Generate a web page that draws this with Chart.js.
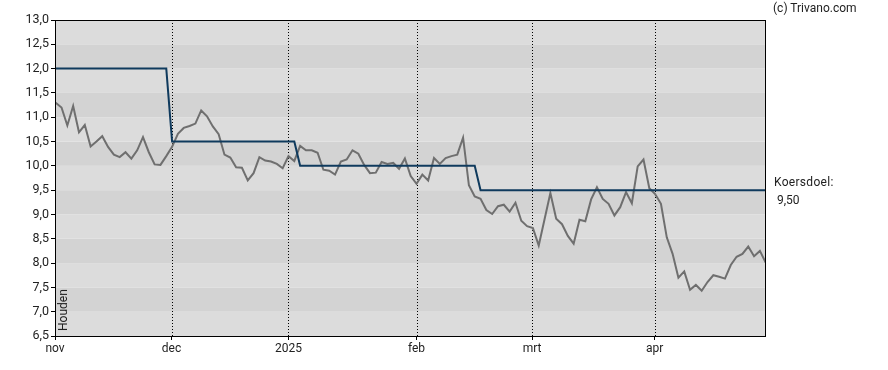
<!DOCTYPE html>
<html>
<head>
<meta charset="utf-8">
<script src="https://cdn.jsdelivr.net/npm/chart.js@4/dist/chart.umd.min.js"></script>
<style>
  html, body { margin: 0; padding: 0; background: #fff; }
  #wrap { position: relative; width: 888px; height: 370px; font-family: Roboto, Arial, sans-serif; color: #222; }
  #chart { position: absolute; left: 0; top: 0; }
  .note { position: absolute; font-size: 12px; line-height: 14px; white-space: nowrap; }
  #houden { position: absolute; left: 57px; top: 331px; font-size: 12px; line-height: 12px; transform-origin: 0 0; transform: rotate(-90deg); white-space: nowrap; }
</style>
</head>
<body>
<div id="wrap">
  <canvas id="chart" width="888" height="370"></canvas>
  <div class="note" style="left:773px; top:1px;">(c) Trivano.com</div>
  <div class="note" style="left:774px; top:175px; letter-spacing:0.3px;">Koersdoel:</div>
  <div class="note" style="left:777px; top:193px;">9,50</div>
  <div id="houden">Houden</div>
</div>
<script>
// slotkoersen per handelsdag (index 0 = begin nov)
const priceValues = [
  11.30, 11.20, 10.83, 11.23, 10.69, 10.84, 10.40, 10.50, 10.61, 10.39,
  10.23, 10.18, 10.28, 10.15, 10.32, 10.59, 10.28, 10.03, 10.02, 10.20,
  10.39, 10.66, 10.78, 10.82, 10.87, 11.14, 11.02, 10.81, 10.65, 10.23,
  10.17, 9.97, 9.96, 9.70, 9.85, 10.18, 10.11, 10.09, 10.04, 9.95,
  10.20, 10.10, 10.41, 10.32, 10.32, 10.27, 9.92, 9.90, 9.82, 10.09,
  10.13, 10.32, 10.25, 10.02, 9.85, 9.86, 10.08, 10.04, 10.06, 9.94,
  10.15, 9.79, 9.63, 9.82, 9.70, 10.16, 10.04, 10.16, 10.20, 10.23,
  10.58, 9.60, 9.37, 9.32, 9.09, 9.01, 9.17, 9.20, 9.06, 9.24,
  8.87, 8.76, 8.72, 8.36, 8.90, 9.44, 8.91, 8.80, 8.56, 8.40,
  8.89, 8.86, 9.31, 9.56, 9.32, 9.22, 8.98, 9.15, 9.46, 9.23,
  9.99, 10.13, 9.54, 9.42, 9.22, 8.53, 8.19, 7.70, 7.83, 7.45,
  7.55, 7.43, 7.61, 7.75, 7.72, 7.68, 7.96, 8.13, 8.19, 8.34,
  8.14, 8.25, 8.01
];

// koersdoel (trap)
const targetIdx = [0, 19, 20, 41, 42, 72, 73, 122];
const targetValues = [12.0, 12.0, 10.5, 10.5, 10.0, 10.0, 9.5, 9.5];

// maandlabels op de x-as
const monthTickPos = [-0.12, 19.9, 40.0, 62.0, 81.85, 102.9];
const monthLabels = ['nov', 'dec', '2025', 'feb', 'mrt', 'apr'];

const yMin = 6.5;
const yMax = 13.0;

const fontFamily = 'Roboto, Arial, sans-serif';

// grijze banden + kader
const bandsPlugin = {
    id: 'bands',
    beforeDatasetsDraw(chart) {
        const { ctx, chartArea, scales } = chart;
        ctx.save();
        for (let v = yMin; v < yMax; v += 0.5) {
            const top = scales.y.getPixelForValue(v + 0.5);
            const bottom = scales.y.getPixelForValue(v);
            ctx.fillStyle = Number.isInteger(v) ? '#d3d3d3' : '#dcdcdc';
            ctx.fillRect(chartArea.left, top, chartArea.right - chartArea.left, bottom - top);
        }
        // verticale stippellijnen per maand
        ctx.strokeStyle = '#000';
        ctx.lineWidth = 1;
        ctx.setLineDash([1, 2]);
        monthTickPos.forEach((p, i) => {
            if (i === 0) return;
            const x = Math.round(scales.x.getPixelForValue(p)) + 0.5;
            ctx.beginPath();
            ctx.moveTo(x, chartArea.top);
            ctx.lineTo(x, chartArea.bottom);
            ctx.stroke();
        });
        ctx.restore();
    },
    afterDraw(chart) {
        const { ctx, chartArea } = chart;
        ctx.save();
        ctx.strokeStyle = '#000';
        ctx.lineWidth = 1;
        ctx.strokeRect(chartArea.left + 0.5, chartArea.top + 0.5,
            chartArea.right - chartArea.left - 1, chartArea.bottom - chartArea.top);
        ctx.restore();
    }
};

const ctx = document.getElementById('chart').getContext('2d');
new Chart(ctx, {
    type: 'line',
    data: {
        datasets: [
            {
                label: 'Koers',
                data: priceValues.map((v, i) => ({ x: i, y: v })),
                borderColor: '#6f6f6f',
                borderWidth: 2,
                pointRadius: 0,
                tension: 0,
                fill: false,
                order: 2,
            },
            {
                label: 'Koersdoel',
                data: targetIdx.map((x, i) => ({ x: x, y: targetValues[i] })),
                borderColor: '#0f3a5d',
                borderWidth: 2,
                pointRadius: 0,
                tension: 0,
                fill: false,
                order: 1,
            },
        ],
    },
    options: {
        responsive: false,
        animation: false,
        layout: {
            padding: { top: 20, right: 122, left: 0, bottom: 0 },
        },
        plugins: {
            legend: { display: false },
            tooltip: { enabled: false },
        },
        scales: {
            x: {
                type: 'linear',
                min: -0.12,
                max: 122.05,
                afterBuildTicks(scale) {
                    scale.ticks = monthTickPos.map(v => ({ value: v }));
                },
                afterFit(scale) {
                    scale.height = 34;
                },
                grid: {
                    drawOnChartArea: false,
                    drawTicks: true,
                    tickLength: 4,
                    color: '#000',
                },
                border: { display: false },
                ticks: {
                    autoSkip: false,
                    maxRotation: 0,
                    padding: 2,
                    color: '#222',
                    font: { size: 12, family: fontFamily },
                    callback: function(value, index) {
                        return monthLabels[index];
                    },
                },
            },
            y: {
                min: yMin,
                max: yMax,
                afterFit(scale) {
                    scale.width = 55;
                },
                grid: {
                    drawOnChartArea: false,
                    drawTicks: true,
                    tickLength: 4,
                    color: '#000',
                },
                border: { display: false },
                ticks: {
                    stepSize: 0.5,
                    padding: 2,
                    color: '#222',
                    font: { size: 12.5, family: fontFamily },
                    callback: function(value) {
                        return value.toFixed(1).replace('.', ',');
                    },
                },
            },
        },
    },
    plugins: [bandsPlugin],
});
</script>
</body>
</html>
